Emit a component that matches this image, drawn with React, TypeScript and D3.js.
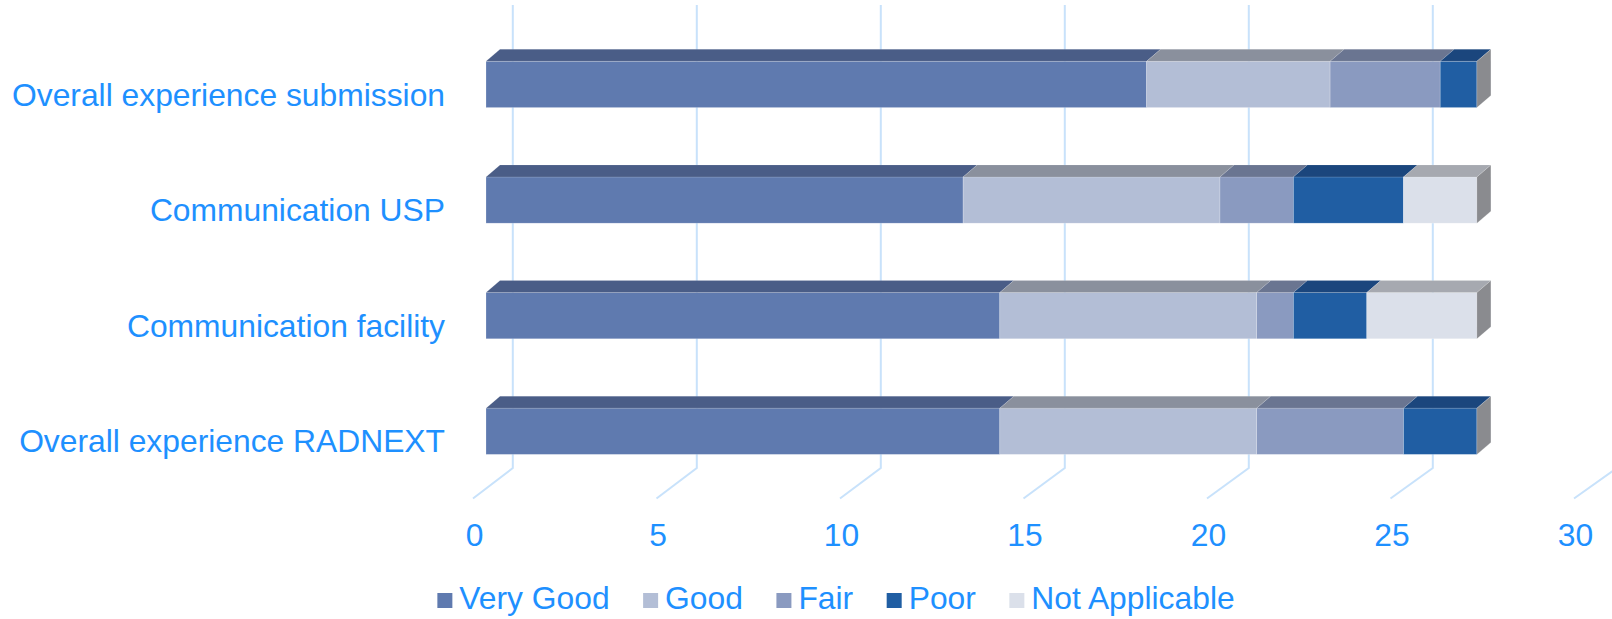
import React, { useEffect, useRef } from "react";
import * as d3 from "d3";

const categories = [
  "Overall experience submission",
  "Communication USP",
  "Communication facility",
  "Overall experience RADNEXT",
];
const seriesNames = ["Very Good", "Good", "Fair", "Poor", "Not Applicable"];
const veryGood = [18, 13, 14, 14];
const good = [5, 7, 7, 7];
const fair = [3, 2, 1, 4];
const poor = [1, 3, 2, 2];
const notApplicable = [0, 2, 3, 0];
const tickValues = [0, 5, 10, 15, 20, 25, 30];

const frontColors = ["#5f7aaf", "#b3bed6", "#8a9ac0", "#205ea3", "#dbe0ea"];
const topColors = ["#4a5d87", "#8a909d", "#6a7591", "#1b467d", "#a6a9b0"];
const sideColor = "#8a8b8f";
const textColor = "#1e90ff";
const gridColor = "#c8e2fb";
const FONT = "'Liberation Sans', Arial, sans-serif";

export default function App() {
  const ref = useRef<SVGSVGElement | null>(null);

  useEffect(() => {
    const svg = d3.select(ref.current);
    svg.selectAll("*").remove();

    const dx = 14;
    const dy = 12;
    const fs = 31.8;

    const xFront = d3.scaleLinear().domain([0, 30]).range([486, 486 + 36.7 * 30]);
    const xBack = d3.scaleLinear().domain([0, 30]).range([512.8, 512.8 + 36.8 * 30]);
    const xFloor = d3.scaleLinear().domain([0, 30]).range([473, 473 + 36.7 * 30]);
    const y = d3
      .scaleBand<string>()
      .domain(categories)
      .range([38.2, 477.5])
      .paddingInner(0.6)
      .paddingOuter(0.2);

    const gridTop = 5;
    const wallBottom = 468;
    const floorFront = 498.5;

    const g = svg.append("g");
    tickValues.forEach((t) => {
      g.append("path")
        .attr(
          "d",
          `M${xBack(t)},${gridTop}L${xBack(t)},${wallBottom}L${xFloor(t)},${floorFront}`
        )
        .attr("fill", "none")
        .attr("stroke", gridColor)
        .attr("stroke-width", 2);
    });

    svg
      .append("g")
      .selectAll("text")
      .data(tickValues)
      .join("text")
      .attr("x", (d) => xFloor(d) + 1.5)
      .attr("y", 546)
      .attr("text-anchor", "middle")
      .attr("font-family", FONT)
      .attr("font-size", fs)
      .attr("fill", textColor)
      .text((d) => String(d));

    const rows = categories.map((c, i) => ({
      cat: c,
      vals: [veryGood[i], good[i], fair[i], poor[i], notApplicable[i]],
    }));

    const bars = svg.append("g");
    rows.forEach((r) => {
      const y0 = y(r.cat)!;
      const h = y.bandwidth();
      let cum = 0;
      let lastEnd = 0;
      r.vals.forEach((v, si) => {
        if (v <= 0) return;
        const a = xFront(cum);
        const b = xFront(cum + v);
        cum += v;
        lastEnd = b;
        bars
          .append("rect")
          .attr("x", a)
          .attr("y", y0)
          .attr("width", b - a)
          .attr("height", h)
          .attr("fill", frontColors[si])
          .attr("stroke", "rgba(255,255,255,0.35)")
          .attr("stroke-width", 0.6);
        bars
          .append("path")
          .attr("d", `M${a},${y0}L${b},${y0}L${b + dx},${y0 - dy}L${a + dx},${y0 - dy}Z`)
          .attr("fill", topColors[si])
          .attr("stroke", "rgba(255,255,255,0.25)")
          .attr("stroke-width", 0.5);
      });
      bars
        .append("path")
        .attr(
          "d",
          `M${lastEnd},${y0}L${lastEnd + dx},${y0 - dy}L${lastEnd + dx},${y0 + h - dy}L${lastEnd},${y0 + h}Z`
        )
        .attr("fill", sideColor)
        .attr("stroke", "rgba(255,255,255,0.35)")
        .attr("stroke-width", 0.5);
    });

    svg
      .append("g")
      .selectAll("text")
      .data(categories)
      .join("text")
      .attr("x", 445)
      .attr("y", (d) => y(d)! + y.bandwidth() - 2)
      .attr("text-anchor", "end")
      .attr("font-family", FONT)
      .attr("font-size", fs)
      .attr("fill", textColor)
      .text((d) => d);

    const leg = svg.append("g");
    const sq = 15;
    const gapText = 7;
    const gapItem = 33.5;
    const items = seriesNames.map((name, i) => {
      const t = leg
        .append("text")
        .attr("font-family", FONT)
        .attr("font-size", fs)
        .attr("fill", textColor)
        .attr("y", 609)
        .text(name);
      const w = (t.node() as SVGTextElement).getComputedTextLength();
      return { t, w, i };
    });
    const total =
      items.reduce((s, it) => s + sq + gapText + it.w, 0) + gapItem * (items.length - 1);
    let xPos = 836 - total / 2;
    items.forEach((it) => {
      leg
        .append("rect")
        .attr("x", xPos)
        .attr("y", 593)
        .attr("width", sq)
        .attr("height", sq)
        .attr("fill", frontColors[it.i]);
      it.t.attr("x", xPos + sq + gapText);
      xPos += sq + gapText + it.w + gapItem;
    });
  }, []);

  return (
    <svg
      ref={ref}
      width={1612}
      height={619}
      style={{ position: "fixed", left: 0, top: 0, background: "#fff" }}
    />
  );
}
